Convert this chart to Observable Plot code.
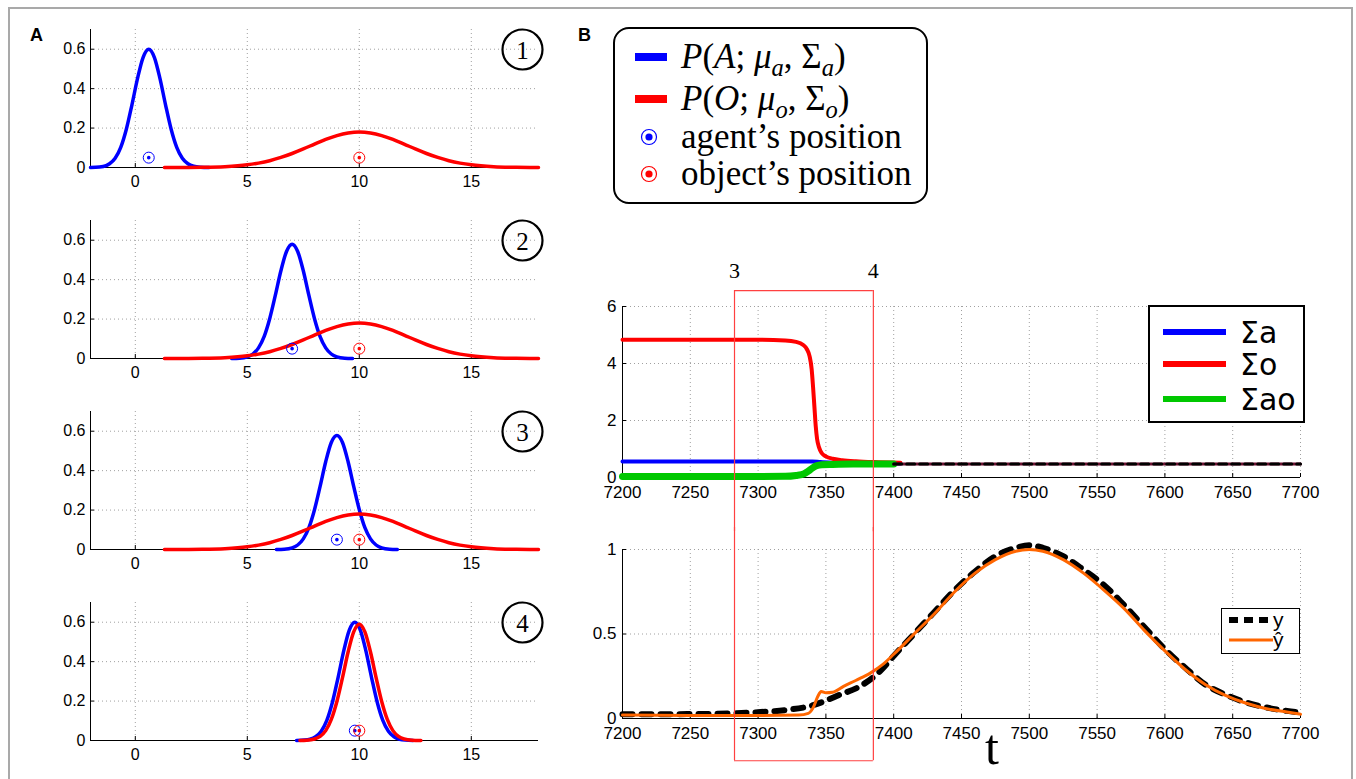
<!DOCTYPE html>
<html>
<head>
<meta charset="utf-8">
<script src="https://cdn.jsdelivr.net/npm/d3@7"></script>
<script src="https://cdn.jsdelivr.net/npm/@observablehq/plot@0.6"></script>
<style>
html,body{margin:0;padding:0;background:#fff;}
#root{position:relative;width:1356px;height:779px;overflow:hidden;background:#fff;}
.abs{position:absolute;}
#root svg{overflow:visible;}
.frame{position:absolute;left:8px;top:7px;width:1345px;height:900px;border:2px solid #a9a9a9;box-sizing:border-box;}
.plab{position:absolute;font-family:"Liberation Sans",Arial,sans-serif;font-weight:bold;font-size:18px;line-height:1;}
.box{position:absolute;border:2px solid #000;box-sizing:border-box;background:#fff;color:#000;}
.row{position:absolute;left:0;height:0;width:100%;}
.row .txt{position:absolute;top:0;transform:translateY(-50%);white-space:nowrap;line-height:0.9;}
.row svg{position:absolute;left:0;top:-15px;}
sub{font-size:0.7em;vertical-align:-0.3em;line-height:0;}
.serif{font-family:"Liberation Serif","Times New Roman",serif;}
</style>
</head>
<body>
<div id="root">
  <div class="frame"></div>
  <div class="plab" style="left:30px;top:26px;">A</div>
  <div class="plab" style="left:578px;top:26px;">B</div>
</div>
<script>
// ---------- Panel A data ----------
const aTicksX = [0, 5, 10, 15];
const aTicksY = [0, 0.2, 0.4, 0.6];
const aPanelNumbers = ["1", "2", "3", "4"];
const agentPos = [0.6, 7, 9, 9.8];
const objectPos = [10, 10, 10, 10];
const markerLevel = 0.05;

const a1BlueX = [-2, -1.6, -1.3, -1.15, -0.9, -0.65, -0.4, -0.15, 0.1, 0.35, 0.6, 0.85, 1.1, 1.35, 1.6, 1.85, 2.1, 2.35, 2.6, 2.9, 3.3];
const a1BlueY = [0.0003, 0.0025, 0.01, 0.019, 0.047, 0.102, 0.194, 0.318, 0.452, 0.559, 0.6, 0.559, 0.452, 0.318, 0.194, 0.102, 0.047, 0.019, 0.0065, 0.0015, 0.0001];

const redWideX = [1.3, 2, 3, 4, 5, 5.5, 6, 6.5, 7, 7.5, 8, 8.5, 9, 9.5, 10, 10.5, 11, 11.5, 12, 12.5, 13, 13.5, 14, 14.5, 15, 16, 17, 18];
const redWideY = [0.0001, 0.0002, 0.0011, 0.0044, 0.0136, 0.0222, 0.0344, 0.051, 0.071, 0.094, 0.119, 0.143, 0.162, 0.175, 0.18, 0.175, 0.162, 0.143, 0.119, 0.094, 0.071, 0.051, 0.0344, 0.0222, 0.0136, 0.0044, 0.0011, 0.0002];

const a2BlueX = [4.3, 4.65, 5.0, 5.25, 5.5, 5.75, 6.0, 6.25, 6.5, 6.75, 7.0, 7.25, 7.5, 7.75, 8.0, 8.25, 8.5, 8.75, 9.0, 9.35, 9.7];
const a2BlueY = [0.0003, 0.0017, 0.0085, 0.0228, 0.054, 0.111, 0.202, 0.32, 0.445, 0.543, 0.58, 0.543, 0.445, 0.32, 0.202, 0.111, 0.054, 0.0228, 0.0085, 0.0017, 0.0003];

const a3BlueX = [6.3, 6.65, 7.0, 7.25, 7.5, 7.75, 8.0, 8.25, 8.5, 8.75, 9.0, 9.25, 9.5, 9.75, 10.0, 10.25, 10.5, 10.75, 11.0, 11.35, 11.7];
const a3BlueY = [0.0003, 0.0017, 0.0085, 0.0228, 0.054, 0.111, 0.202, 0.32, 0.445, 0.543, 0.578, 0.543, 0.445, 0.32, 0.202, 0.111, 0.054, 0.0228, 0.0085, 0.0017, 0.0003];

const a4BlueX = [7.2, 7.55, 7.8, 8.05, 8.3, 8.55, 8.8, 9.05, 9.3, 9.55, 9.8, 10.05, 10.3, 10.55, 10.8, 11.05, 11.3, 11.55, 11.8, 12.05, 12.4];
const a4BlueY = [0.0003, 0.002, 0.0065, 0.019, 0.047, 0.102, 0.194, 0.318, 0.452, 0.559, 0.6, 0.559, 0.452, 0.318, 0.194, 0.102, 0.047, 0.019, 0.0065, 0.002, 0.0003];
const a4RedX = [7.35, 7.65, 8.0, 8.25, 8.5, 8.75, 9.0, 9.25, 9.5, 9.75, 10.0, 10.25, 10.5, 10.75, 11.0, 11.25, 11.5, 11.75, 12.0, 12.35, 12.75];
const a4RedY = [0.0003, 0.0014, 0.0074, 0.0207, 0.05, 0.107, 0.198, 0.319, 0.449, 0.551, 0.59, 0.551, 0.449, 0.319, 0.198, 0.107, 0.05, 0.0207, 0.0074, 0.0014, 0.0002];

// ---------- Panel B data ----------
const bTicksX = [7200, 7250, 7300, 7350, 7400, 7450, 7500, 7550, 7600, 7650, 7700];
const bTopTicksY = [0, 2, 4, 6];
const bBotTicksY = [0, 0.5, 1];
const windowT = [7282.6, 7385];
const windowLabels = ["3", "4"];

const sigmaOT = [7200, 7300, 7320, 7328, 7333, 7336, 7338, 7339.5, 7340.5, 7341.5, 7342.5, 7343.5, 7345, 7347, 7350, 7355, 7362, 7372, 7385, 7405];
const sigmaOV = [4.83, 4.83, 4.81, 4.76, 4.66, 4.5, 4.25, 3.8, 3.2, 2.5, 1.8, 1.35, 1.05, 0.85, 0.74, 0.66, 0.61, 0.57, 0.54, 0.52];
const sigmaAT = [7200, 7340, 7346, 7355, 7370, 7405];
const sigmaAV = [0.56, 0.56, 0.54, 0.52, 0.5, 0.49];
const sigmaAOT = [7200, 7320, 7328, 7334, 7337, 7340, 7343, 7347, 7355, 7370, 7400];
const sigmaAOV = [0.035, 0.04, 0.07, 0.13, 0.22, 0.33, 0.41, 0.45, 0.46, 0.47, 0.47];
const convergedT = [7400, 7700];
const convergedV = [0.47, 0.47];

const yT = [7200, 7250, 7280, 7300, 7320, 7340, 7350, 7360, 7375, 7390, 7400, 7415, 7430, 7445, 7460, 7475, 7490, 7500, 7510, 7525, 7540, 7555, 7570, 7585, 7600, 7615, 7630, 7645, 7660, 7675, 7690, 7700];
const yV = [0.025, 0.026, 0.03, 0.037, 0.05, 0.077, 0.106, 0.14, 0.19, 0.28, 0.37, 0.5, 0.63, 0.76, 0.87, 0.96, 1.01, 1.025, 1.01, 0.96, 0.88, 0.79, 0.67, 0.54, 0.41, 0.3, 0.2, 0.14, 0.095, 0.065, 0.045, 0.035];
const yhatT = [7200, 7250, 7300, 7330, 7337, 7341, 7344, 7346.5, 7350, 7355, 7363, 7372, 7383, 7392, 7400, 7415, 7430, 7445, 7460, 7475, 7490, 7500, 7510, 7525, 7540, 7555, 7570, 7585, 7600, 7615, 7630, 7645, 7660, 7675, 7690, 7700];
const yhatV = [0.02, 0.018, 0.018, 0.02, 0.03, 0.07, 0.13, 0.16, 0.152, 0.155, 0.19, 0.225, 0.27, 0.32, 0.38, 0.5, 0.62, 0.75, 0.86, 0.94, 0.99, 1.0, 0.99, 0.94, 0.86, 0.76, 0.65, 0.52, 0.4, 0.29, 0.2, 0.135, 0.09, 0.058, 0.038, 0.025];

const legendBLabels = [
  '<i>P</i>(<i>A</i>; <i>μ</i><sub><i>a</i></sub>, Σ<sub><i>a</i></sub>)',
  '<i>P</i>(<i>O</i>; <i>μ</i><sub><i>o</i></sub>, Σ<sub><i>o</i></sub>)',
  'agent’s position',
  'object’s position'
];
const sigmaLegendLabels = ["Σa", "Σo", "Σao"];
const yLegendLabels = ["y", "ŷ"];

// ---------- helpers ----------
const BLUE = "#0000ff", RED = "#ff0000", GREEN = "#00c800", ORANGE = "#ff6600";
const GRID = {stroke: "#a0a0a0", strokeOpacity: 1, strokeDasharray: "1,3", strokeWidth: 1};
const pts = (X, Y) => X.map((x, i) => ({x, y: Y[i]}));
const root = document.getElementById("root");
function place(el, left, top) {
  const d = document.createElement("div");
  d.className = "abs";
  d.style.left = left + "px";
  d.style.top = top + "px";
  d.appendChild(el);
  root.appendChild(d);
  return d;
}
const SANS = "'Liberation Sans', Arial, sans-serif";
const SERIF = "'Liberation Serif', serif";
const baseStyle = {fontFamily: SANS, fontSize: "16px", overflow: "visible", background: "transparent", color: "#000"};

// ---------- Panel A ----------
const panelsA = [
  {blue: pts(a1BlueX, a1BlueY), red: pts(redWideX, redWideY)},
  {blue: pts(a2BlueX, a2BlueY), red: pts(redWideX, redWideY)},
  {blue: pts(a3BlueX, a3BlueY), red: pts(redWideX, redWideY)},
  {blue: pts(a4BlueX, a4BlueY), red: pts(a4RedX, a4RedY)}
];
panelsA.forEach((p, k) => {
  const agent = [{x: agentPos[k], y: markerLevel}];
  const obj = [{x: objectPos[k], y: markerLevel}];
  const plot = Plot.plot({
    width: 560, height: 191,
    marginLeft: 90, marginRight: 22, marginTop: 29, marginBottom: 24,
    x: {domain: [-2, 18]},
    y: {domain: [0, 0.7]},
    style: baseStyle,
    marks: [
      Plot.gridX(aTicksX, GRID),
      Plot.gridY(aTicksY.filter(v => v > 0), GRID),
      Plot.axisX(aTicksX, {tickSize: -4, tickPadding: 12, tickFormat: d => String(d), label: null, fontSize: 16, fontFamily: SANS}),
      Plot.axisY(aTicksY, {tickSize: -4, tickPadding: 9, tickFormat: d => String(d), label: null, fontSize: 16, fontFamily: SANS}),
      Plot.ruleX([-2], {stroke: "#000", strokeWidth: 1}),
      Plot.ruleY([0], {stroke: "#000", strokeWidth: 1}),
      Plot.line(p.blue, {x: "x", y: "y", stroke: BLUE, strokeWidth: 3.5, curve: "monotone-x"}),
      Plot.line(p.red, {x: "x", y: "y", stroke: RED, strokeWidth: 3.5, curve: "monotone-x"}),
      Plot.dot(agent, {x: "x", y: "y", r: 5.5, stroke: BLUE, fill: "none", strokeWidth: 1}),
      Plot.dot(agent, {x: "x", y: "y", r: 1.8, fill: BLUE, stroke: "none"}),
      Plot.dot(obj, {x: "x", y: "y", r: 5.5, stroke: RED, fill: "none", strokeWidth: 1}),
      Plot.dot(obj, {x: "x", y: "y", r: 1.8, fill: RED, stroke: "none"}),
      Plot.dot([aPanelNumbers[k]], {x: null, y: null, frameAnchor: "top-right", dx: -16, dy: 20, r: 20, stroke: "#000", strokeWidth: 2.2, fill: "none"}),
      Plot.text([aPanelNumbers[k]], {x: null, y: null, text: d => d, frameAnchor: "top-right", dx: -16, dy: 21, textAnchor: "middle", lineAnchor: "middle", fontSize: 25, fontFamily: SERIF, fill: "#000"})
    ]
  });
  place(plot, 0, 191 * k);
});

// ---------- Panel B top ----------
const topPlot = Plot.plot({
  width: 780, height: 280,
  marginLeft: 62, marginRight: 40, marginTop: 56, marginBottom: 53,
  x: {domain: [7200, 7700]},
  y: {domain: [0, 6]},
  style: baseStyle,
  marks: [
    Plot.gridX(bTicksX, GRID),
    Plot.gridY(bTopTicksY.filter(v => v > 0), GRID),
    Plot.axisX(bTicksX, {tickSize: -4, tickPadding: 12, tickFormat: d => String(d), label: null, fontSize: 17, fontFamily: SANS}),
    Plot.axisY(bTopTicksY, {tickSize: -4, tickPadding: 10, tickFormat: d => String(d), label: null, fontSize: 17, fontFamily: SANS}),
    Plot.ruleX([7200], {stroke: "#000"}),
    Plot.ruleY([0], {stroke: "#000"}),
    Plot.line(pts(sigmaAT, sigmaAV), {x: "x", y: "y", stroke: BLUE, strokeWidth: 4, curve: "monotone-x"}),
    Plot.line(pts(sigmaOT, sigmaOV), {x: "x", y: "y", stroke: RED, strokeWidth: 4, curve: "monotone-x"}),
    Plot.line(pts(sigmaAOT, sigmaAOV), {x: "x", y: "y", stroke: GREEN, strokeWidth: 7, curve: "monotone-x"}),
    Plot.line(pts(convergedT, convergedV), {x: "x", y: "y", stroke: "#6a1030", strokeWidth: 3}),
    Plot.line(pts(convergedT, convergedV), {x: "x", y: "y", stroke: "#000", strokeWidth: 3, strokeDasharray: "8,5"}),
    Plot.ruleX(windowT, {x: d => d, y1: 6.56, y2: -1.9, stroke: "#ff4040", strokeWidth: 1.2}),
    Plot.ruleY([6.56], {x1: windowT[0], x2: windowT[1], stroke: "#ff4040", strokeWidth: 1.2}),
    Plot.text(windowLabels, {x: (d, i) => windowT[i], y: 7.25, text: d => d, fontSize: 22, fontFamily: SERIF, fill: "#000"})
  ]
});
place(topPlot, 560, 250);

// ---------- Panel B bottom ----------
const botPlot = Plot.plot({
  width: 780, height: 249,
  marginLeft: 62, marginRight: 40, marginTop: 19, marginBottom: 61,
  x: {domain: [7200, 7700]},
  y: {domain: [0, 1]},
  style: baseStyle,
  marks: [
    Plot.gridX(bTicksX, GRID),
    Plot.gridY(bBotTicksY.filter(v => v > 0), GRID),
    Plot.axisX(bTicksX, {tickSize: -4, tickPadding: 12, tickFormat: d => String(d), label: null, fontSize: 17, fontFamily: SANS}),
    Plot.axisY(bBotTicksY, {tickSize: -4, tickPadding: 10, tickFormat: d => String(d), label: null, fontSize: 17, fontFamily: SANS}),
    Plot.ruleX([7200], {stroke: "#000"}),
    Plot.ruleY([0], {stroke: "#000"}),
    Plot.line(pts(yT, yV), {x: "x", y: "y", stroke: "#000", strokeWidth: 6, strokeDasharray: "10,9", curve: "monotone-x"}),
    Plot.line(pts(yhatT, yhatV), {x: "x", y: "y", stroke: ORANGE, strokeWidth: 3, curve: "monotone-x"}),
    Plot.ruleX(windowT, {x: d => d, y1: 1.13, y2: -0.25, stroke: "#ff4040", strokeWidth: 1.2}),
    Plot.ruleY([-0.25], {x1: windowT[0], x2: windowT[1], stroke: "#ff4040", strokeWidth: 1.2})
  ]
});
place(botPlot, 560, 530);

// ---------- t label ----------
const tLab = document.createElement("div");
tLab.className = "abs serif";
tLab.style.cssText = "left:972px;top:722px;width:40px;text-align:center;font-size:50px;line-height:1;";
tLab.textContent = "t";
root.appendChild(tLab);

// ---------- Legend B (top-left of panel B) ----------
{
  const box = document.createElement("div");
  box.className = "box serif";
  box.style.cssText += "left:613px;top:27px;width:315px;height:177px;border-radius:16px;font-size:35px;";
  const rowsY = [28, 70, 108, 145];
  legendBLabels.forEach((lab, i) => {
    const row = document.createElement("div");
    row.className = "row";
    row.style.top = rowsY[i] + "px";
    let sw;
    if (i < 2) {
      sw = `<svg width="60" height="30"><rect x="20" y="11" width="32" height="8" fill="${i === 0 ? BLUE : RED}"/></svg>`;
    } else {
      const c = i === 2 ? BLUE : RED;
      sw = `<svg width="60" height="30"><circle cx="34" cy="15" r="7.5" fill="none" stroke="${c}" stroke-width="1.2"/><circle cx="34" cy="15" r="3.6" fill="${c}"/></svg>`;
    }
    row.innerHTML = sw + `<div class="txt" style="left:66px;">${lab}</div>`;
    box.appendChild(row);
  });
  root.appendChild(box);
}

// ---------- Legend Σ ----------
{
  const box = document.createElement("div");
  box.className = "box";
  box.style.cssText += "left:1148px;top:305px;width:157px;height:118px;font-family:'DejaVu Sans',sans-serif;font-size:30px;";
  const rowsY = [25, 57, 92];
  const cols = [BLUE, RED, GREEN];
  sigmaLegendLabels.forEach((lab, i) => {
    const row = document.createElement("div");
    row.className = "row";
    row.style.top = rowsY[i] + "px";
    row.innerHTML = `<svg width="90" height="30"><rect x="13" y="12" width="63" height="6" fill="${cols[i]}"/></svg><div class="txt" style="left:90px;">${lab}</div>`;
    box.appendChild(row);
  });
  root.appendChild(box);
}

// ---------- Legend y / ŷ ----------
{
  const box = document.createElement("div");
  box.className = "box";
  box.style.cssText += "left:1221px;top:608px;width:79px;height:46px;border-width:1.5px;font-family:'Liberation Sans',Arial,sans-serif;font-size:21px;";
  const rowsY = [11, 31];
  yLegendLabels.forEach((lab, i) => {
    const row = document.createElement("div");
    row.className = "row";
    row.style.top = rowsY[i] + "px";
    const sw = i === 0
      ? `<svg width="52" height="30"><line x1="7" y1="15" x2="51" y2="15" stroke="#000" stroke-width="6" stroke-dasharray="9,6"/></svg>`
      : `<svg width="52" height="30"><line x1="7" y1="15" x2="51" y2="15" stroke="${ORANGE}" stroke-width="3"/></svg>`;
    row.innerHTML = sw + `<div class="txt" style="left:51px;">${lab}</div>`;
    box.appendChild(row);
  });
  root.appendChild(box);
}
</script>
</body>
</html>
